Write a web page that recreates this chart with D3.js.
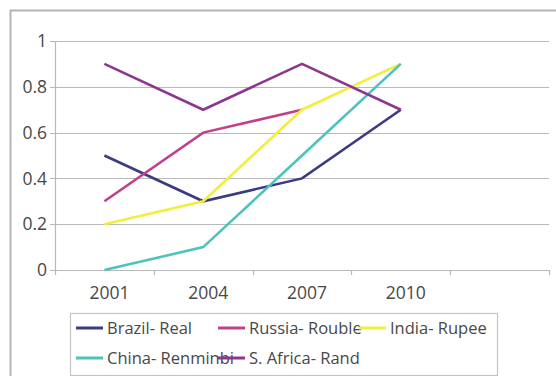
<!DOCTYPE html>
<html>
<head>
<meta charset="utf-8">
<script src="https://cdn.jsdelivr.net/npm/d3@7"></script>
<style>
  html, body { margin: 0; padding: 0; background: #fff; }
  svg { display: block; font-family: "Open Sans", sans-serif; }
</style>
</head>
<body>
<svg id="chart" width="556" height="376"></svg>
<script>
// Category axis: four survey years plus one empty slot at the right
const years = ["2001", "2004", "2007", "2010", ""];
const yTicks = [0, 0.2, 0.4, 0.6, 0.8, 1];

const seriesNames = ["Brazil- Real", "Russia- Rouble", "India- Rupee", "China- Renminbi", "S. Africa- Rand"];
const brazil   = [0.5, 0.3, 0.4, 0.7];
const russia   = [0.3, 0.6, 0.7];
const india    = [0.2, 0.3, 0.7, 0.9];
const china    = [0.0, 0.1, 0.5, 0.9];
const safrica  = [0.9, 0.7, 0.9, 0.7];
const seriesColors = ["#3b3b82", "#c23f8c", "#f2ee3a", "#4ec3bb", "#8c3690"];

const series = [brazil, russia, india, china, safrica].map((vals, i) => ({
  name: seriesNames[i],
  color: seriesColors[i],
  values: vals.map((v, j) => ({ year: years[j], value: v }))
}));

const svg = d3.select("#chart");

// Outer chart frame
svg.append("rect")
  .attr("x", 10.5).attr("y", 10.5)
  .attr("width", 560).attr("height", 380)
  .attr("fill", "none").attr("stroke", "#b4b4b4").attr("stroke-width", 2);

const plot = { left: 55, right: 549, top: 41, bottom: 270 };

const x = d3.scaleBand().domain(years).range([plot.left, plot.right]);
const y = d3.scaleLinear().domain([0, 1]).range([plot.bottom, plot.top]);

// Horizontal gridlines
svg.append("g")
  .selectAll("line")
  .data(yTicks)
  .join("line")
  .attr("x1", plot.left - 5).attr("x2", plot.right)
  .attr("y1", d => Math.round(y(d)) + 0.5).attr("y2", d => Math.round(y(d)) + 0.5)
  .attr("stroke", "#b8b8b8").attr("stroke-width", 1.2);

// Vertical value axis
svg.append("line")
  .attr("x1", plot.left + 0.5).attr("x2", plot.left + 0.5)
  .attr("y1", plot.top).attr("y2", plot.bottom + 1)
  .attr("stroke", "#b8b8b8").attr("stroke-width", 1.2);

// Value axis labels
svg.append("g")
  .attr("transform", `translate(${plot.left},0)`)
  .call(d3.axisLeft(y).tickValues(yTicks).tickFormat(d3.format("")).tickSize(0).tickPadding(8))
  .call(g => g.select(".domain").remove())
  .call(g => g.selectAll("text")
    .attr("font-family", "Open Sans, sans-serif")
    .attr("font-size", 17.5).attr("fill", "#484848"));

// Category tick marks sit on band boundaries
const boundaries = years.map(d => x(d)).concat([x.range()[1]]);
svg.append("g")
  .selectAll("line")
  .data(boundaries)
  .join("line")
  .attr("x1", d => Math.round(d) + 0.5).attr("x2", d => Math.round(d) + 0.5)
  .attr("y1", plot.bottom).attr("y2", plot.bottom + 5)
  .attr("stroke", "#b8b8b8").attr("stroke-width", 1.2);

// Category labels
svg.append("g")
  .attr("transform", `translate(5,${plot.bottom})`)
  .call(d3.axisBottom(x).tickSize(0).tickPadding(17))
  .call(g => g.select(".domain").remove())
  .call(g => g.selectAll("text")
    .attr("font-family", "Open Sans, sans-serif")
    .attr("font-size", 17.5).attr("fill", "#484848"));

// Series lines
const line = d3.line()
  .x(d => x(d.year) + x.bandwidth() / 2)
  .y(d => y(d.value));

svg.append("g")
  .selectAll("path")
  .data(series)
  .join("path")
  .attr("d", d => line(d.values))
  .attr("fill", "none")
  .attr("stroke", d => d.color)
  .attr("stroke-width", 2.6)
  .attr("stroke-linejoin", "miter");

// Legend
const legend = svg.append("g");
legend.append("rect")
  .attr("x", 70.5).attr("y", 313.5)
  .attr("width", 427).attr("height", 62)
  .attr("fill", "#fff").attr("stroke", "#c4c4c4").attr("stroke-width", 1.2);

const colX = [76, 218, 359];
const rowY = [328, 358];
const items = legend.selectAll("g.item")
  .data(series)
  .join("g")
  .attr("class", "item")
  .attr("transform", (d, i) => `translate(${colX[i % 3]},${rowY[Math.floor(i / 3)]})`);

items.append("line")
  .attr("x1", 0).attr("x2", 27)
  .attr("y1", 0).attr("y2", 0)
  .attr("stroke", d => d.color).attr("stroke-width", 3);

items.append("text")
  .attr("x", 31).attr("y", 0).attr("dy", "0.35em")
  .attr("font-family", "Open Sans, sans-serif")
  .attr("font-size", 16.5).attr("fill", "#484848")
  .text(d => d.name);
</script>
</body>
</html>
